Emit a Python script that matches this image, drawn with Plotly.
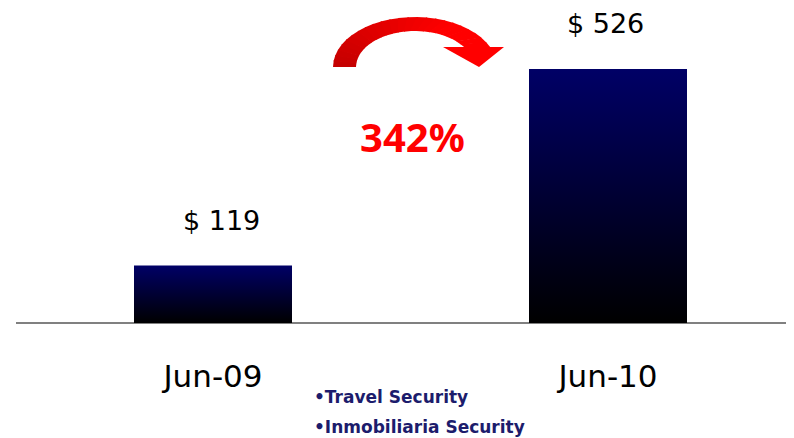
import math
import plotly.graph_objects as go

# ---- data ----
categories = ["Jun-09", "Jun-10"]
values = [119, 526]
value_labels = ["$ 119", "$ 526"]
growth_label = "342%"
notes = ["•Travel Security", "•Inmobiliaria Security"]

OFF = 8                      # page body margin
W, H = 794 - OFF, 438 - OFF  # figure size
BAR_W = 0.4
K = 254 / 526                # pixels per unit
LABEL_XSHIFT = [8, -3]

def px(x, y):
    """window pixel -> paper coords (margins are zero)"""
    return (x - OFF) / W, 1 - (y - OFF) / H

fig = go.Figure()

# gradient bars (navy top -> black bottom)
for i, (c, v) in enumerate(zip(categories, values)):
    x0, x1 = i - BAR_W / 2, i + BAR_W / 2
    fig.add_trace(go.Scatter(
        x=[x0, x1, x1, x0, x0], y=[0, 0, v, v, 0],
        mode="lines", line=dict(width=0), fill="toself",
        fillgradient=dict(type="vertical",
                          colorscale=[[0, "#000000"], [1, "#000066"]]),
        hoverinfo="skip", showlegend=False, name=c,
    ))

shapes = []
# baseline
shapes.append(dict(type="line", xref="paper", yref="y", x0=px(16, 0)[0], x1=px(793, 0)[0],
                   y0=0, y1=0, line=dict(color="#808080", width=2), layer="below"))

# curved arrow (decoration) built from pieces with colour gradient
cx, cy = 415, 67
orx, ory = 82, 50
irx, iry = 59, 36
th_o_end = math.asin(20 / ory)
th_i_end = math.asin(20 / iry)
N = 24
def lerp(a, b, t):
    return a + (b - a) * t
for k in range(N):
    t0, t1 = k / N, min(1, (k + 1.15) / N)
    pts = []
    for t in (t0, t1):
        th = math.pi - t * (math.pi - th_o_end)
        pts.append((cx + orx * math.cos(th), cy - ory * math.sin(th)))
    for t in (t1, t0):
        th = math.pi - t * (math.pi - th_i_end)
        pts.append((cx + irx * math.cos(th), cy - iry * math.sin(th)))
    tm = (t0 + t1) / 2
    r = int(lerp(0xC4, 0xFF, min(1, tm * 1.3)))
    path = "M " + " L ".join("%.5f,%.5f" % px(*p) for p in pts) + " Z"
    shapes.append(dict(type="path", xref="paper", yref="paper", path=path,
                       fillcolor="rgb(%d,0,0)" % r, line=dict(width=0)))
head = [(443, 47), (504, 47), (479, 67)]
shapes.append(dict(type="path", xref="paper", yref="paper",
                   path="M " + " L ".join("%.5f,%.5f" % px(*p) for p in head) + " Z",
                   fillcolor="#FF0000", line=dict(width=0)))

annotations = []
for i, (v, lab) in enumerate(zip(values, value_labels)):
    annotations.append(dict(x=i, y=v, xref="x", yref="y", text=lab, showarrow=False,
                            yanchor="bottom", yshift=28, xshift=LABEL_XSHIFT[i],
                            font=dict(family="DejaVu Sans", size=27, color="#000000")))
gx, gy = px(412, 136)
annotations.append(dict(x=gx, y=gy, xref="paper", yref="paper", text="<b>%s</b>" % growth_label,
                        showarrow=False, xanchor="center", yanchor="middle",
                        font=dict(family="Noto Sans", size=40, color="#FF0000")))
for j, note in enumerate(notes):
    nx, ny = px(312, 397 + 30 * j)
    annotations.append(dict(x=nx, y=ny, xref="paper", yref="paper", text="<b>%s</b>" % note,
                            showarrow=False, xanchor="left", yanchor="middle",
                            font=dict(family="DejaVu Sans", size=17, color="#1C1C6C")))

base_paper = 1 - (323 - OFF) / H
x_zero = 213 - OFF
fig.update_layout(
    width=W, height=H, margin=dict(l=0, r=0, t=0, b=0),
    paper_bgcolor="white", plot_bgcolor="white", showlegend=False,
    xaxis=dict(range=[-x_zero / 395, (W - x_zero) / 395], tickvals=list(range(len(categories))),
               ticktext=categories, showgrid=False, zeroline=False, showline=False,
               ticks="", anchor="free", position=base_paper, ticklabelstandoff=32,
               tickfont=dict(family="DejaVu Sans", size=31, color="#000000")),
    yaxis=dict(range=[-(H - (323 - OFF)) / K, (323 - OFF) / K], visible=False),
    shapes=shapes, annotations=annotations,
)
fig.write_html("out.html")
